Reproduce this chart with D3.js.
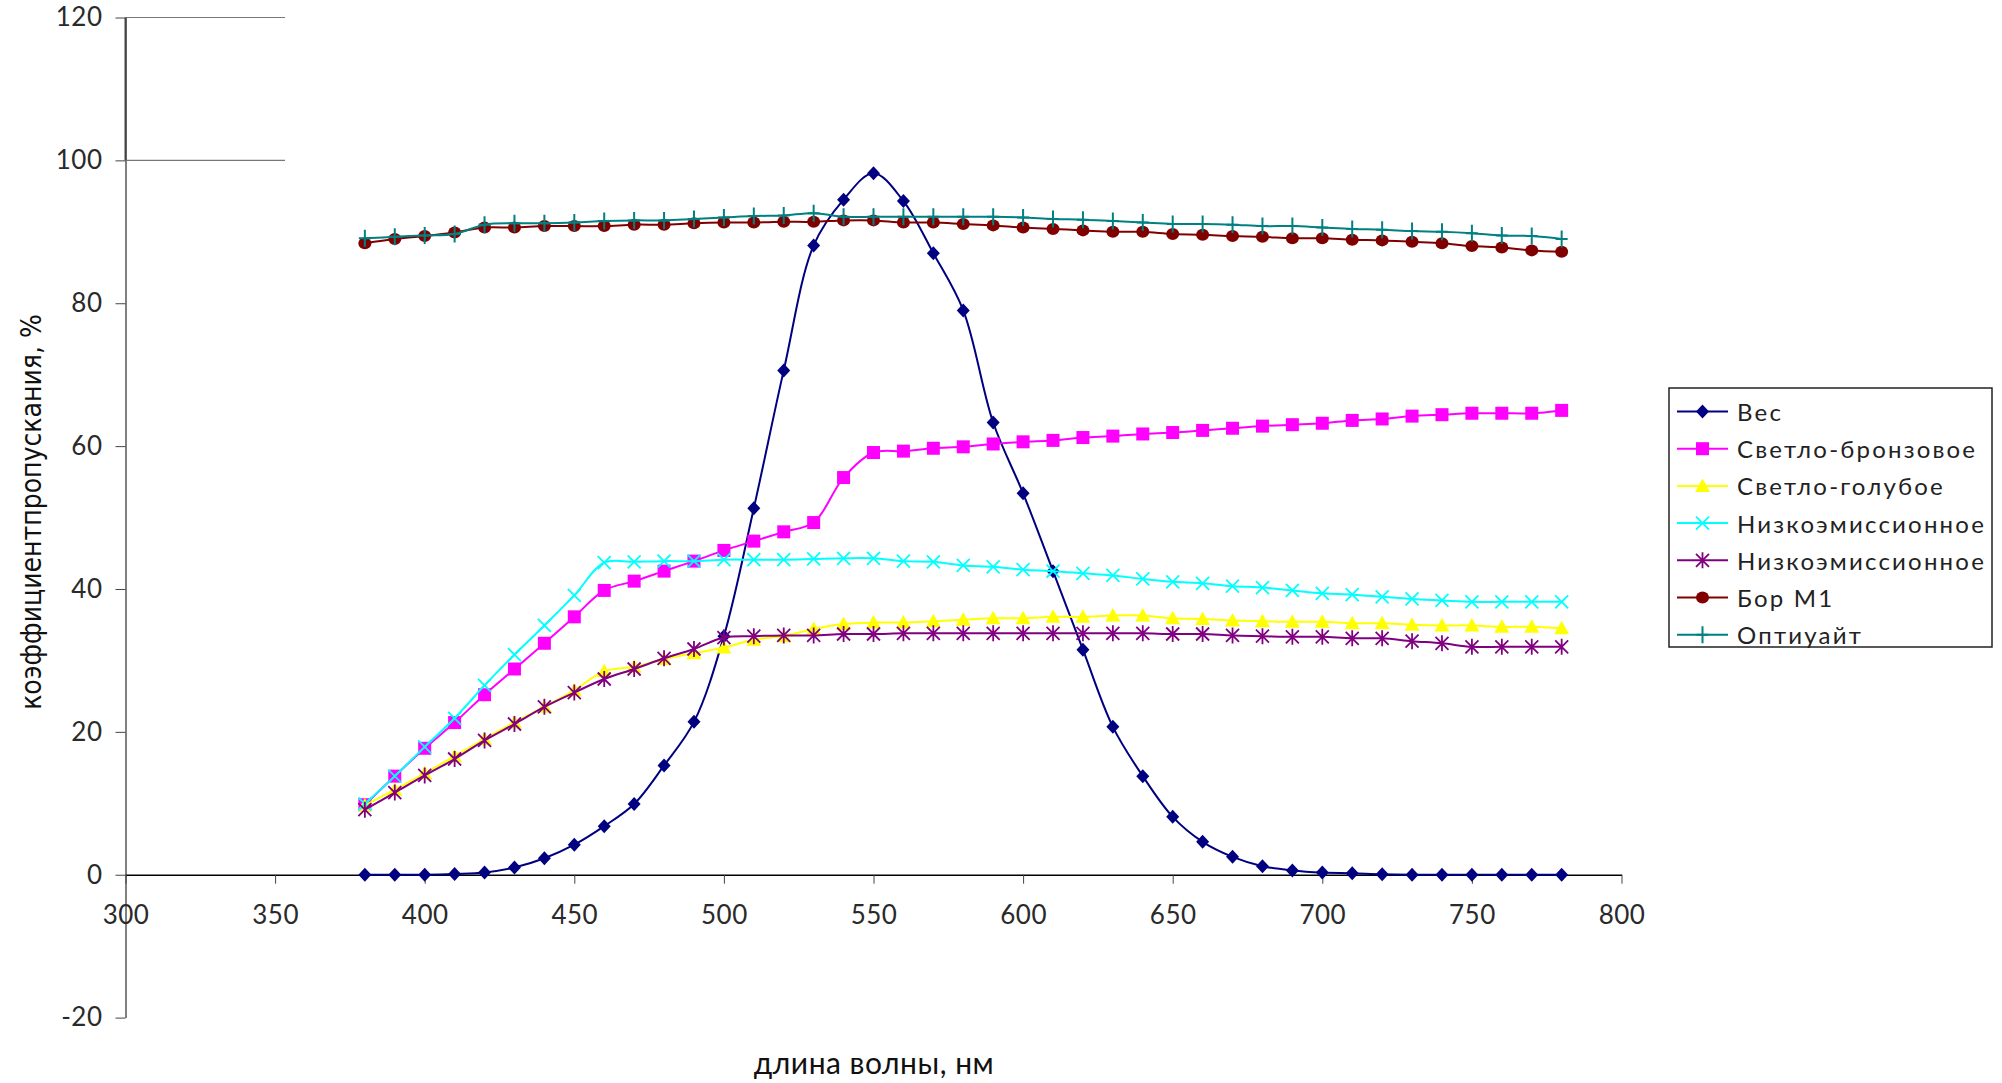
<!DOCTYPE html>
<html>
<head>
<meta charset="utf-8">
<script src="https://cdn.jsdelivr.net/npm/d3@7"></script>
<style>
  html, body { margin: 0; padding: 0; background: #fff; }
  svg { display: block; }
  .tick text { font-family: Lato, "Open Sans", sans-serif; fill: #2a2a2a; letter-spacing: 0.5px; }
</style>
</head>
<body>
<svg id="chart" width="2002" height="1083"></svg>
<script>
// Wavelength grid, nm
const wavelengths = [380, 390, 400, 410, 420, 430, 440, 450, 460, 470,
                     480, 490, 500, 510, 520, 530, 540, 550, 560, 570,
                     580, 590, 600, 610, 620, 630, 640, 650, 660, 670,
                     680, 690, 700, 710, 720, 730, 740, 750, 760, 770, 780];

// Transmission coefficient, % (and the eye sensitivity weight curve)
const ves = [0, 0, 0, 0.1, 0.3, 1.0, 2.3, 4.2, 6.8, 9.9,
             15.3, 21.4, 33.4, 51.3, 70.6, 88.1, 94.5, 98.2, 94.3, 87.0,
             79.0, 63.3, 53.4, 42.5, 31.5, 20.7, 13.8, 8.1, 4.6, 2.5,
             1.2, 0.6, 0.3, 0.2, 0.05, 0, 0, 0, 0, 0, 0];
const svetloBronzovoe = [9.8, 13.8, 17.7, 21.3, 25.2, 28.8, 32.4, 36.1, 39.8, 41.1,
             42.5, 43.9, 45.4, 46.7, 48.0, 49.3, 55.6, 59.1, 59.3, 59.7,
             59.9, 60.3, 60.6, 60.8, 61.2, 61.4, 61.7, 61.9, 62.2, 62.5,
             62.8, 63.0, 63.2, 63.6, 63.8, 64.2, 64.4, 64.6, 64.6, 64.6, 65.0];
const svetloGoluboe = [9.7, 11.9, 14.2, 16.6, 19.0, 21.3, 23.5, 25.8, 28.5, 29.1,
             30.2, 31.0, 31.8, 32.9, 33.4, 34.4, 35.1, 35.3, 35.3, 35.5,
             35.7, 35.9, 35.9, 36.1, 36.1, 36.3, 36.3, 35.9, 35.8, 35.6,
             35.5, 35.4, 35.4, 35.2, 35.2, 35.0, 34.9, 34.9, 34.7, 34.7, 34.5];
const nizkoemissionnoe1 = [9.9, 13.8, 17.9, 21.9, 26.5, 30.8, 34.9, 39.1, 43.7, 43.8,
             43.9, 43.9, 44.1, 44.1, 44.1, 44.2, 44.3, 44.3, 43.9, 43.8,
             43.3, 43.1, 42.7, 42.5, 42.2, 41.9, 41.4, 41.0, 40.8, 40.4,
             40.2, 39.8, 39.4, 39.2, 38.9, 38.6, 38.4, 38.2, 38.2, 38.2, 38.2];
const nizkoemissionnoe2 = [9.1, 11.5, 13.9, 16.2, 18.8, 21.1, 23.5, 25.5, 27.4, 28.8,
             30.3, 31.6, 33.2, 33.4, 33.5, 33.5, 33.7, 33.7, 33.8, 33.8,
             33.8, 33.8, 33.8, 33.8, 33.8, 33.8, 33.8, 33.7, 33.7, 33.5,
             33.4, 33.3, 33.3, 33.1, 33.1, 32.7, 32.4, 31.9, 31.9, 31.9, 31.9];
const borM1 = [88.4, 89.0, 89.4, 89.9, 90.6, 90.6, 90.8, 90.8, 90.8, 91.0,
             91.0, 91.2, 91.3, 91.3, 91.4, 91.4, 91.6, 91.6, 91.3, 91.3,
             91.1, 90.9, 90.6, 90.4, 90.2, 90.0, 90.0, 89.7, 89.6, 89.4,
             89.3, 89.1, 89.1, 88.9, 88.8, 88.6, 88.4, 88.0, 87.8, 87.4, 87.2];
const optiuait = [89.1, 89.3, 89.5, 89.7, 91.0, 91.2, 91.2, 91.3, 91.5, 91.6,
             91.6, 91.8, 92.0, 92.2, 92.3, 92.6, 92.1, 92.1, 92.1, 92.1,
             92.1, 92.1, 92.0, 91.8, 91.7, 91.5, 91.3, 91.1, 91.1, 91.0,
             90.8, 90.8, 90.6, 90.4, 90.3, 90.1, 90.0, 89.8, 89.5, 89.4, 89.0];

const seriesNames = ["Вес", "Светло-бронзовое", "Светло-голубое", "Низкоэмиссионное",
                     "Низкоэмиссионное", "Бор М1", "Оптиуайт"];
const seriesValues = [ves, svetloBronzovoe, svetloGoluboe, nizkoemissionnoe1,
                      nizkoemissionnoe2, borM1, optiuait];
const seriesColors = ["#000080", "#ff00ff", "#ffff00", "#00ffff", "#800080", "#800000", "#008080"];
const seriesMarkers = ["diamond", "square", "triangle", "cross", "star", "circle", "plus"];

const xTicks = [300, 350, 400, 450, 500, 550, 600, 650, 700, 750, 800];
const yTicks = [-20, 0, 20, 40, 60, 80, 100, 120];
const yGridTicks = [100, 120];

const svg = d3.select("#chart");

const x = d3.scaleLinear().domain([300, 800]).range([125.5, 1621.5]);
const y = d3.scaleLinear().domain([-20, 120]).range([1017.6, 17.5]);

// Short horizontal grid stubs at the top of the plot
svg.append("g").selectAll("line").data(yGridTicks).join("line")
  .attr("x1", x(300)).attr("x2", 285)
  .attr("y1", d => y(d)).attr("y2", d => y(d))
  .attr("stroke", "#777").attr("stroke-width", 1.2);

// Y axis
const yAxis = svg.append("g")
  .attr("transform", `translate(${x(300)},0)`)
  .call(d3.axisLeft(y).tickValues(yTicks).tickFormat(d => String(d))
    .tickSize(10).tickSizeOuter(0).tickPadding(13));
yAxis.select(".domain").attr("stroke", "#808080").attr("stroke-width", 2);
yAxis.selectAll(".tick line").attr("stroke", "#444");
yAxis.selectAll(".tick text").attr("font-size", 26);
svg.append("line")
  .attr("x1", x(300)).attr("x2", x(300))
  .attr("y1", y(120)).attr("y2", y(100))
  .attr("stroke", "#444").attr("stroke-width", 2);

// X axis along the zero line
const xAxis = svg.append("g")
  .attr("transform", `translate(0,${y(0)})`)
  .call(d3.axisBottom(x).tickValues(xTicks).tickFormat(d => String(d))
    .tickSize(9).tickSizeOuter(0).tickPadding(22));
xAxis.select(".domain").attr("stroke", "#000").attr("stroke-width", 1.5);
xAxis.selectAll(".tick line").attr("stroke", "#444");
xAxis.selectAll(".tick text").attr("font-size", 26);

// Axis titles
svg.append("text")
  .attr("transform", "translate(31,512) rotate(-90)")
  .attr("text-anchor", "middle")
  .attr("dominant-baseline", "central")
  .attr("font-family", "'Liberation Sans Narrow', 'Arial Narrow', 'DejaVu Sans Condensed', sans-serif")
  .attr("font-stretch", "condensed")
  .attr("font-size", 28)
  .attr("fill", "#111")
  .text("коэффициентпропускания, %");

svg.append("text")
  .attr("x", 874).attr("y", 1062)
  .attr("text-anchor", "middle")
  .attr("dominant-baseline", "central")
  .attr("font-family", "Lato, 'Open Sans', sans-serif")
  .attr("font-size", 30)
  .attr("letter-spacing", 0.5)
  .attr("fill", "#111")
  .text("длина волны, нм");

// Marker drawing
function drawMarker(g, type, color) {
  switch (type) {
    case "diamond":
      g.append("path").attr("d", "M0,-7L6.5,0L0,7L-6.5,0Z").attr("fill", color);
      break;
    case "square":
      g.append("rect").attr("x", -6.5).attr("y", -6.5).attr("width", 13).attr("height", 13).attr("fill", color);
      break;
    case "triangle":
      g.append("path").attr("d", "M0,-7.5L7.5,6L-7.5,6Z").attr("fill", color);
      break;
    case "cross":
      g.append("path").attr("d", "M-6.5,-6.5L6.5,6.5M-6.5,6.5L6.5,-6.5")
        .attr("stroke", color).attr("stroke-width", 1.8).attr("fill", "none");
      break;
    case "star":
      g.append("path").attr("d", "M-6.5,-6.5L6.5,6.5M-6.5,6.5L6.5,-6.5M0,-8L0,8")
        .attr("stroke", color).attr("stroke-width", 1.8).attr("fill", "none");
      break;
    case "circle":
      g.append("ellipse").attr("rx", 6.5).attr("ry", 6).attr("fill", color);
      break;
    case "plus":
      g.append("path").attr("d", "M0,-8.5L0,8.5M-6,0L6,0")
        .attr("stroke", color).attr("stroke-width", 2).attr("fill", "none");
      break;
  }
}

const line = d3.line()
  .x(d => x(d[0]))
  .y(d => y(d[1]))
  .curve(d3.curveCatmullRom.alpha(0.5));

// Series: line then markers, each drawn over the previous one
seriesValues.forEach((vals, i) => {
  const pts = wavelengths.map((w, k) => [w, vals[k]]);
  const g = svg.append("g");
  g.append("path")
    .attr("d", line(pts))
    .attr("fill", "none")
    .attr("stroke", seriesColors[i])
    .attr("stroke-width", 2);
  g.selectAll("g.m").data(pts).join("g")
    .attr("class", "m")
    .attr("transform", d => `translate(${x(d[0])},${y(d[1])})`)
    .each(function () { drawMarker(d3.select(this), seriesMarkers[i], seriesColors[i]); });
});

// Legend
const legend = svg.append("g");
legend.append("rect")
  .attr("x", 1669).attr("y", 388).attr("width", 323).attr("height", 259)
  .attr("fill", "#fff").attr("stroke", "#222").attr("stroke-width", 1.5);
seriesNames.forEach((name, i) => {
  const cy = 411.5 + i * 37.2;
  const row = legend.append("g");
  row.append("line").attr("x1", 1677).attr("x2", 1728).attr("y1", cy).attr("y2", cy)
    .attr("stroke", seriesColors[i]).attr("stroke-width", 2);
  drawMarker(row.append("g").attr("transform", `translate(1702.5,${cy})`), seriesMarkers[i], seriesColors[i]);
  row.append("text")
    .attr("x", 1737).attr("y", cy)
    .attr("dominant-baseline", "central")
    .attr("font-family", "Lato, 'Open Sans', sans-serif")
    .attr("font-size", 24)
    .attr("letter-spacing", 2.2)
    .attr("fill", "#222")
    .text(name);
});
</script>
</body>
</html>
